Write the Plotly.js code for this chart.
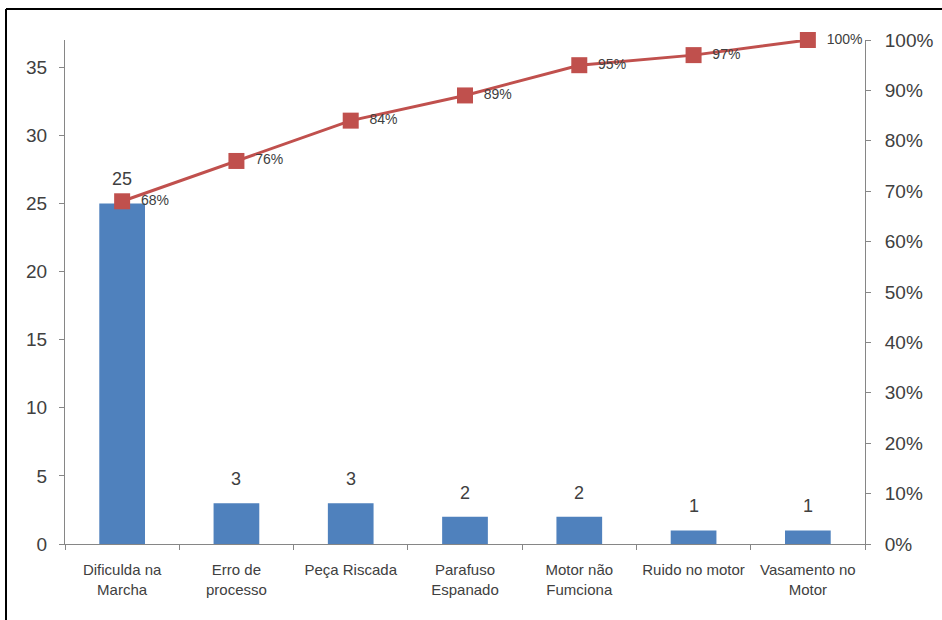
<!DOCTYPE html>
<html>
<head>
<meta charset="utf-8">
<script src="https://cdn.plot.ly/plotly-3.0.1.min.js"></script>
<style>
html,body{margin:0;padding:0;background:#fff;}
#chart{width:942px;height:620px;}
</style>
</head>
<body>
<div id="chart"></div>
<script>
const categories = ["Dificulda na<br>Marcha","Erro de<br>processo","Peça Riscada","Parafuso<br>Espanado","Motor não<br>Fumciona","Ruido no motor","Vasamento no<br>Motor"];
const counts = [25, 3, 3, 2, 2, 1, 1];
const cumulative = [0.68, 0.76, 0.84, 0.89, 0.95, 0.97, 1.00];
const cumulativeLabels = ["68%","76%","84%","89%","95%","97%","100%"];

const FONT = '"Liberation Sans Narrow", "Liberation Sans", Arial, sans-serif';
const TXT = '#404040';

const bars = {
  type: 'bar', x: categories, y: counts,
  marker: {color: '#4F81BD'}, width: 0.4,
  hoverinfo: 'skip', showlegend: false
};
const line = {
  type: 'scatter', mode: 'lines+markers+text', x: categories, y: cumulative, yaxis: 'y2',
  line: {color: '#C0504D', width: 3},
  marker: {symbol: 'square', size: 16, color: '#C0504D'},
  text: cumulativeLabels, texttemplate: '  %{text}', textposition: 'middle right',
  textfont: {family: FONT, size: 14, color: TXT},
  cliponaxis: false, hoverinfo: 'skip', showlegend: false
};

const annotations = counts.map((v, i) => ({
  x: categories[i], y: v, xref: 'x', yref: 'y', text: String(v),
  showarrow: false, yanchor: 'bottom', yshift: 12,
  font: {family: FONT, size: 18, color: TXT}
}));

const layout = {
  width: 942, height: 620,
  margin: {l: 65, r: 77, t: 40, b: 76},
  paper_bgcolor: '#fff', plot_bgcolor: '#fff',
  font: {family: FONT, color: TXT},
  bargap: 0.6,
  xaxis: {
    type: 'category', showgrid: false, zeroline: false,
    showline: true, linecolor: '#868686', linewidth: 1,
    ticks: 'outside', tickson: 'boundaries', ticklen: 5, tickcolor: '#868686',
    tickfont: {family: FONT, size: 15, color: TXT},
    ticklabelstandoff: 12, tickangle: 0
  },
  yaxis: {
    range: [0, 37], tickvals: [0,5,10,15,20,25,30,35], showgrid: false, zeroline: false,
    showline: true, linecolor: '#868686', linewidth: 1,
    ticks: 'outside', ticklen: 5, tickcolor: '#868686',
    tickfont: {family: FONT, size: 19, color: TXT}, ticklabelstandoff: 8
  },
  yaxis2: {
    overlaying: 'y', side: 'right', range: [0, 1], dtick: 0.1, tick0: 0,
    tickformat: '.0%', showgrid: false, zeroline: false,
    showline: true, linecolor: '#868686', linewidth: 1,
    ticks: 'outside', ticklen: 5, tickcolor: '#868686',
    tickfont: {family: FONT, size: 19, color: TXT}, ticklabelstandoff: 10
  },
  annotations: annotations,
  shapes: [
    {type: 'line', xref: 'paper', yref: 'paper', x0: (6-65)/800, x1: (6-65)/800, y0: (544-625)/504, y1: 1 + (40-9)/504, line: {color: '#000', width: 2}},
    {type: 'line', xref: 'paper', yref: 'paper', x0: (6-65)/800, x1: (950-65)/800, y0: 1 + (40-9)/504, y1: 1 + (40-9)/504, line: {color: '#000', width: 2}}
  ]
};

Plotly.newPlot('chart', [bars, line], layout, {displayModeBar: false, staticPlot: true});
</script>
</body>
</html>
